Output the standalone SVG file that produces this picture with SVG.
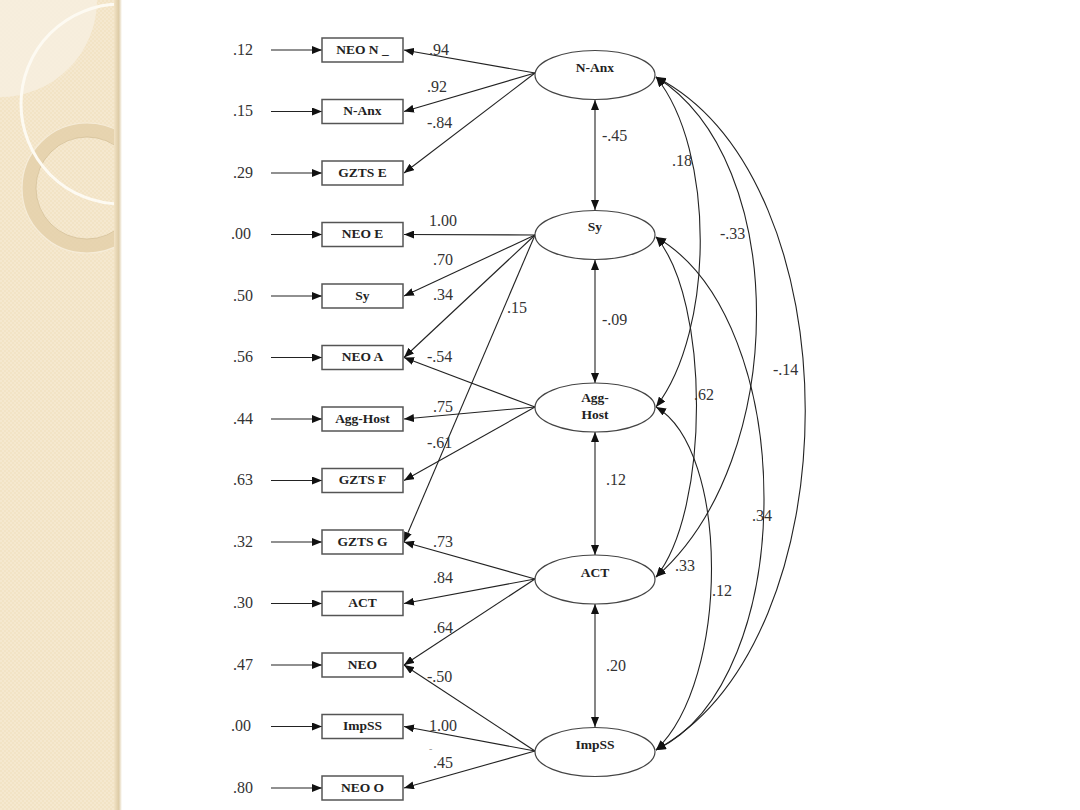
<svg xmlns="http://www.w3.org/2000/svg" width="1080" height="810" viewBox="0 0 1080 810">
<defs>
<marker id="arr" viewBox="0 0 10 8" refX="10" refY="4" markerWidth="10" markerHeight="8" markerUnits="userSpaceOnUse" orient="auto-start-reverse">
<path d="M0,0 L10,4 L0,8 z" fill="#111"/>
</marker>
<clipPath id="panelClip"><rect x="0" y="0" width="120" height="810"/></clipPath>
<linearGradient id="edge" x1="0" y1="0" x2="1" y2="0">
<stop offset="0" stop-color="#F2E3C6"/>
<stop offset="0.6" stop-color="#DDCBA6"/>
<stop offset="1" stop-color="#FFFFFF"/>
</linearGradient>
<pattern id="checker" width="4" height="4" patternUnits="userSpaceOnUse">
<rect width="4" height="4" fill="#F2E3C5"/>
<rect width="2" height="2" fill="#F5E8CF"/>
<rect x="2" y="2" width="2" height="2" fill="#F5E8CF"/>
</pattern>
</defs>
<style>
.ln{stroke:#222;stroke-width:1.1;fill:none}
.box{fill:#fff;stroke:#555;stroke-width:1.5}
.ell{fill:#fff;stroke:#444;stroke-width:1.2}
.nt{font-family:"Liberation Serif",serif;font-weight:bold;font-size:13.5px;fill:#222;text-anchor:middle}
.num{font-family:"Liberation Serif",serif;font-size:16px;fill:#333}
</style>
<rect x="0" y="0" width="1080" height="810" fill="#fff"/>
<g id="panel">
<rect x="0" y="0" width="120" height="810" fill="url(#checker)"/>
<g clip-path="url(#panelClip)">
<circle cx="0" cy="0" r="97" fill="#F7EFDF" opacity="0.85"/>
<circle cx="87" cy="188" r="58" fill="none" stroke="#E2CEA6" stroke-width="14" opacity="0.75"/>
<circle cx="87" cy="188" r="65" fill="none" stroke="#F6ECD8" stroke-width="1.2"/>
<circle cx="87" cy="188" r="51" fill="none" stroke="#CDB88E" stroke-width="1" opacity="0.6"/>
<circle cx="121" cy="104" r="100" fill="none" stroke="#FDFAF2" stroke-width="3"/>
</g>
<rect x="114" y="0" width="8" height="810" fill="url(#edge)"/>
</g>
<g id="connectors">
<!-- error arrows -->
<line class="ln" x1="271" y1="50" x2="322" y2="50" marker-end="url(#arr)"/>
<line class="ln" x1="271" y1="111.5" x2="322" y2="111.5" marker-end="url(#arr)"/>
<line class="ln" x1="271" y1="173" x2="322" y2="173" marker-end="url(#arr)"/>
<line class="ln" x1="271" y1="234.5" x2="322" y2="234.5" marker-end="url(#arr)"/>
<line class="ln" x1="271" y1="296" x2="322" y2="296" marker-end="url(#arr)"/>
<line class="ln" x1="271" y1="357.5" x2="322" y2="357.5" marker-end="url(#arr)"/>
<line class="ln" x1="271" y1="419" x2="322" y2="419" marker-end="url(#arr)"/>
<line class="ln" x1="271" y1="480.5" x2="322" y2="480.5" marker-end="url(#arr)"/>
<line class="ln" x1="271" y1="542" x2="322" y2="542" marker-end="url(#arr)"/>
<line class="ln" x1="271" y1="603.5" x2="322" y2="603.5" marker-end="url(#arr)"/>
<line class="ln" x1="271" y1="665" x2="322" y2="665" marker-end="url(#arr)"/>
<line class="ln" x1="271" y1="726.5" x2="322" y2="726.5" marker-end="url(#arr)"/>
<line class="ln" x1="271" y1="788" x2="322" y2="788" marker-end="url(#arr)"/>
<!-- loadings -->
<line class="ln" x1="535" y1="73" x2="404" y2="50" marker-end="url(#arr)"/>
<line class="ln" x1="535" y1="73" x2="404" y2="111.5" marker-end="url(#arr)"/>
<line class="ln" x1="535" y1="73" x2="404" y2="173" marker-end="url(#arr)"/>
<line class="ln" x1="535" y1="235" x2="404" y2="234.5" marker-end="url(#arr)"/>
<line class="ln" x1="535" y1="235" x2="404" y2="296" marker-end="url(#arr)"/>
<line class="ln" x1="535" y1="235" x2="404" y2="357.5" marker-end="url(#arr)"/>
<line class="ln" x1="535" y1="235" x2="404" y2="542" marker-end="url(#arr)"/>
<line class="ln" x1="535" y1="407" x2="404" y2="357.5" marker-end="url(#arr)"/>
<line class="ln" x1="535" y1="407" x2="404" y2="419" marker-end="url(#arr)"/>
<line class="ln" x1="535" y1="407" x2="404" y2="480.5" marker-end="url(#arr)"/>
<line class="ln" x1="535" y1="579" x2="404" y2="542" marker-end="url(#arr)"/>
<line class="ln" x1="535" y1="579" x2="404" y2="603.5" marker-end="url(#arr)"/>
<line class="ln" x1="535" y1="579" x2="404" y2="665" marker-end="url(#arr)"/>
<line class="ln" x1="535" y1="751" x2="404" y2="665" marker-end="url(#arr)"/>
<line class="ln" x1="535" y1="751" x2="404" y2="726.5" marker-end="url(#arr)"/>
<line class="ln" x1="535" y1="751" x2="404" y2="788" marker-end="url(#arr)"/>
<!-- adjacent factor correlations -->
<line class="ln" x1="595" y1="100" x2="595" y2="210" marker-start="url(#arr)" marker-end="url(#arr)"/>
<line class="ln" x1="595" y1="260" x2="595" y2="383" marker-start="url(#arr)" marker-end="url(#arr)"/>
<line class="ln" x1="595" y1="432" x2="595" y2="555" marker-start="url(#arr)" marker-end="url(#arr)"/>
<line class="ln" x1="595" y1="604" x2="595" y2="727" marker-start="url(#arr)" marker-end="url(#arr)"/>
<!-- curved correlations -->
<path class="ln" d="M656,77 C715,150 715,330 656,407" marker-start="url(#arr)" marker-end="url(#arr)"/>
<path class="ln" d="M656,77 C790,160 790,460 656,577" marker-start="url(#arr)" marker-end="url(#arr)"/>
<path class="ln" d="M656,77 C855,180 855,640 656,750" marker-start="url(#arr)" marker-end="url(#arr)"/>
<path class="ln" d="M656,237 C710,300 710,510 656,577" marker-start="url(#arr)" marker-end="url(#arr)"/>
<path class="ln" d="M656,237 C800,320 800,680 656,750" marker-start="url(#arr)" marker-end="url(#arr)"/>
<path class="ln" d="M656,407 C730,450 730,680 656,750" marker-start="url(#arr)" marker-end="url(#arr)"/>
</g>
<g id="box-neo-n"><rect class="box" x="322" y="38" width="81" height="24"/><text class="nt" x="362.5" y="53.5">NEO N _</text></g>
<g id="box-n-anx"><rect class="box" x="322" y="99.5" width="81" height="24"/><text class="nt" x="362.5" y="115">N-Anx</text></g>
<g id="box-gzts-e"><rect class="box" x="322" y="161" width="81" height="24"/><text class="nt" x="362.5" y="176.5">GZTS E</text></g>
<g id="box-neo-e"><rect class="box" x="322" y="222.5" width="81" height="24"/><text class="nt" x="362.5" y="238">NEO E</text></g>
<g id="box-sy"><rect class="box" x="322" y="284" width="81" height="24"/><text class="nt" x="362.5" y="299.5">Sy</text></g>
<g id="box-neo-a"><rect class="box" x="322" y="345.5" width="81" height="24"/><text class="nt" x="362.5" y="361">NEO A</text></g>
<g id="box-agg-host"><rect class="box" x="322" y="407" width="81" height="24"/><text class="nt" x="362.5" y="422.5" font-size="12.5px">Agg-Host</text></g>
<g id="box-gzts-f"><rect class="box" x="322" y="468.5" width="81" height="24"/><text class="nt" x="362.5" y="484">GZTS F</text></g>
<g id="box-gzts-g"><rect class="box" x="322" y="530" width="81" height="24"/><text class="nt" x="362.5" y="545.5">GZTS G</text></g>
<g id="box-act"><rect class="box" x="322" y="591.5" width="81" height="24"/><text class="nt" x="362.5" y="607">ACT</text></g>
<g id="box-neo"><rect class="box" x="322" y="653" width="81" height="24"/><text class="nt" x="362.5" y="668.5">NEO</text></g>
<g id="box-impss"><rect class="box" x="322" y="714.5" width="81" height="24"/><text class="nt" x="362.5" y="730">ImpSS</text></g>
<g id="box-neo-o"><rect class="box" x="322" y="776" width="81" height="24"/><text class="nt" x="362.5" y="791.5">NEO O</text></g>
<g id="f-n-anx"><ellipse class="ell" cx="595" cy="75" rx="60" ry="24.5"/><text class="nt" x="595" y="72">N-Anx</text></g>
<g id="f-sy"><ellipse class="ell" cx="595" cy="235" rx="60" ry="24.5"/><text class="nt" x="595" y="231">Sy</text></g>
<g id="f-agg-host"><ellipse class="ell" cx="595" cy="407.5" rx="60" ry="24.5"/><text class="nt" x="595" y="402">Agg-</text><text class="nt" x="595" y="419">Host</text></g>
<g id="f-act"><ellipse class="ell" cx="595" cy="579.5" rx="60" ry="24.5"/><text class="nt" x="595" y="577">ACT</text></g>
<g id="f-impss"><ellipse class="ell" cx="595" cy="752" rx="60" ry="24.5"/><text class="nt" x="595" y="749">ImpSS</text></g>
<g id="error-labels" class="num">
<text x="233" y="55">.12</text>
<text x="233" y="116">.15</text>
<text x="233" y="177.5">.29</text>
<text x="231" y="239">.00</text>
<text x="233" y="300.5">.50</text>
<text x="233" y="362">.56</text>
<text x="233" y="423.5">.44</text>
<text x="233" y="485">.63</text>
<text x="233" y="546.5">.32</text>
<text x="233" y="608">.30</text>
<text x="233" y="669.5">.47</text>
<text x="231" y="731">.00</text>
<text x="233" y="792.5">.80</text>
</g>
<g id="connector-labels" class="num">
<text x="429" y="55">.94</text>
<text x="427" y="92">.92</text>
<text x="427" y="128">-.84</text>
<text x="429" y="226">1.00</text>
<text x="433" y="265">.70</text>
<text x="433" y="300">.34</text>
<text x="507" y="313">.15</text>
<text x="427" y="362">-.54</text>
<text x="433" y="412">.75</text>
<text x="427" y="448">-.61</text>
<text x="433" y="547">.73</text>
<text x="433" y="583">.84</text>
<text x="433" y="633">.64</text>
<text x="427" y="682">-.50</text>
<text x="429" y="731">1.00</text>
<text x="429" y="752" font-size="10px" fill="#999">-</text>
<text x="433" y="768">.45</text>
<text x="602" y="141">-.45</text>
<text x="602" y="325">-.09</text>
<text x="606" y="485">.12</text>
<text x="606" y="671">.20</text>
<text x="672" y="166">.18</text>
<text x="720" y="239">-.33</text>
<text x="773" y="375">-.14</text>
<text x="694" y="400">.62</text>
<text x="752" y="521">.34</text>
<text x="675" y="571">.33</text>
<text x="712" y="596">.12</text>
</g>
</svg>
